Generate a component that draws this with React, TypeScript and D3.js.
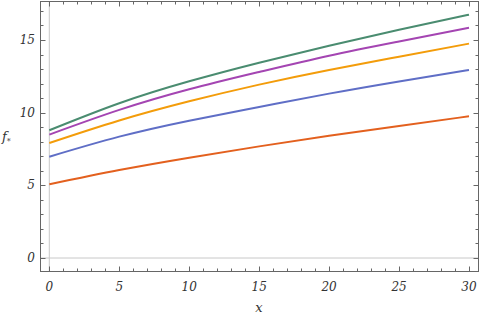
import React from "react";
import * as d3 from "d3";

const xs = [0, 5, 10, 15, 20, 25, 30];
const seriesGreen = [8.79, 10.65, 12.16, 13.44, 14.61, 15.7, 16.74];
const seriesPurple = [8.49, 10.19, 11.61, 12.8, 13.92, 14.9, 15.85];
const seriesOrange = [7.91, 9.46, 10.78, 11.93, 12.94, 13.85, 14.75];
const seriesBlue = [6.97, 8.35, 9.45, 10.39, 11.31, 12.15, 12.94];
const seriesRed = [5.07, 6.05, 6.9, 7.68, 8.41, 9.09, 9.75];
const xTicks = [0, 5, 10, 15, 20, 25, 30];
const yTicks = [0, 5, 10, 15];

const series = [
  { values: seriesRed, color: "#e3601e" },
  { values: seriesBlue, color: "#5f6ec6" },
  { values: seriesOrange, color: "#f39c0a" },
  { values: seriesPurple, color: "#a445b2" },
  { values: seriesGreen, color: "#4a8c70" },
];

export default function App() {
  const width = 480;
  const height = 318;
  const frame = { left: 40.5, right: 478.5, top: 1.5, bottom: 271.5 };

  const xScale = d3.scaleLinear().domain([0, 30]).range([49.3, 469]);
  const yScale = d3.scaleLinear().domain([0, 15]).range([258, 40]);

  const lineGen = d3
    .line<number>()
    .x((_, i) => xScale(xs[i]))
    .y((d) => yScale(d))
    .curve(d3.curveNatural);

  const xMinor = d3.range(0, 31, 1);
  const yMinor = d3.range(0, 18, 1);
  const frameColor = "#666";
  const serif = "DejaVu Serif, Liberation Serif, serif";

  return (
    <div style={{ position: "absolute", left: 0, top: 0 }}>
      <svg width={width} height={height} style={{ display: "block", background: "#fff" }}>
        <line x1={xScale(0)} x2={xScale(0)} y1={frame.top} y2={frame.bottom} stroke="#c8c8c8" strokeWidth={1} />
        <line x1={frame.left} x2={frame.right} y1={yScale(0)} y2={yScale(0)} stroke="#c8c8c8" strokeWidth={1} />

        {series.map((s, idx) => (
          <path key={idx} d={lineGen(s.values) || ""} fill="none" stroke={s.color} strokeWidth={2} />
        ))}

        <rect
          x={frame.left}
          y={frame.top}
          width={frame.right - frame.left}
          height={frame.bottom - frame.top}
          fill="none"
          stroke={frameColor}
          strokeWidth={1}
        />

        {xMinor.map((t) => {
          const len = t % 5 === 0 ? 5 : 3;
          const x = Math.round(xScale(t)) + 0.5;
          return (
            <g key={"xt" + t}>
              <line x1={x} x2={x} y1={frame.bottom} y2={frame.bottom - len} stroke={frameColor} />
              <line x1={x} x2={x} y1={frame.top} y2={frame.top + len} stroke={frameColor} />
            </g>
          );
        })}
        {yMinor.map((t) => {
          const len = t % 5 === 0 ? 5 : 3;
          const y = Math.round(yScale(t)) + 0.5;
          return (
            <g key={"yt" + t}>
              <line x1={frame.left} x2={frame.left + len} y1={y} y2={y} stroke={frameColor} />
              <line x1={frame.right} x2={frame.right - len} y1={y} y2={y} stroke={frameColor} />
            </g>
          );
        })}

        <g fontFamily={serif} fontStyle="italic" fill="#333">
          {xTicks.map((t) => (
            <text key={"xl" + t} x={xScale(t)} y={291} textAnchor="middle" fontSize={12}>
              {t}
            </text>
          ))}
          {yTicks.map((t) => (
            <text key={"yl" + t} x={35} y={yScale(t) + 4} textAnchor="end" fontSize={12}>
              {t}
            </text>
          ))}
          <text x={259} y={312} textAnchor="middle" fontSize={13}>
            x
          </text>
          <text x={2} y={141} fontSize={13}>
            f<tspan fontSize={8} dy={3}>*</tspan>
          </text>
        </g>
      </svg>
    </div>
  );
}
